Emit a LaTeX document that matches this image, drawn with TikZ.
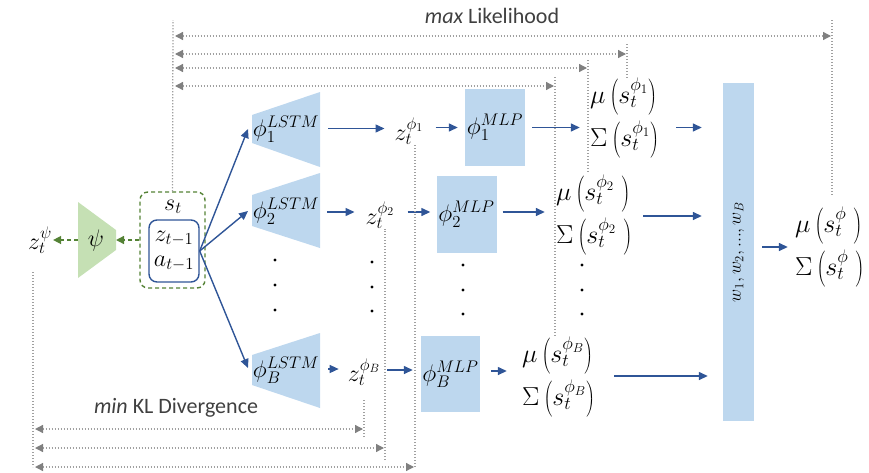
\RequirePackage{fix-cm}
\documentclass[tikz,border=0pt]{standalone}
\usepackage[no-math]{fontspec}
\setmainfont{Carlito}
\usetikzlibrary{arrows.meta}
\definecolor{bfill}{HTML}{BDD7EE}
\definecolor{barrowc}{HTML}{2F5597}
\definecolor{gfill}{HTML}{C5E0B4}
\definecolor{gline}{HTML}{548235}
\definecolor{dotc}{HTML}{A0A0A0}
\definecolor{headc}{HTML}{808080}
\definecolor{txtc}{HTML}{404040}
\begin{document}
\begin{tikzpicture}[x=1pt,y=-1pt,
  every node/.style={font=\fontsize{24}{28}\selectfont, inner sep=0pt},
  lbl/.style={text=txtc, font=\fontsize{22}{26}\selectfont},
  barrow/.style={draw=barrowc, line width=1.4pt, -{Triangle[length=9pt,width=8pt]}},
  garrow/.style={draw=gline, line width=1.4pt, dash pattern=on 4pt off 3pt, -{Triangle[length=8pt,width=8pt]}},
  dline/.style={draw=dotc, line width=1.3pt, dash pattern=on 1.3pt off 1.7pt},
  darrow/.style={dline, {Triangle[length=8pt,width=8pt,color=headc]}-{Triangle[length=8pt,width=8pt,color=headc]}, shorten <=2pt, shorten >=1pt},
  mlp/.style={fill=bfill, minimum width=60pt, minimum height=77pt},
  mus/.style={align=left, font=\fontsize{26}{43}\selectfont},
  stbox/.style={draw=gline, line width=1.4pt, dash pattern=on 4pt off 3pt, rounded corners=8pt, minimum width=65pt, minimum height=96pt},
  inbox/.style={draw=barrowc, line width=1.4pt, rounded corners=8pt, minimum width=50pt, minimum height=62pt, align=center, font=\fontsize{24}{25}\selectfont},
]
\useasboundingbox (0,0) rectangle (869,472);

% titles
\node[lbl, anchor=base] (maxL) at (492,23) {\textit{max} Likelihood};
\node[lbl, anchor=base] (minKL) at (176,413) {\textit{min} KL Divergence};

% psi
\fill[gfill] (78,202) -- (116,230) -- (116,250) -- (78,278) -- cycle;
\node (psi) at (96,240) {$\psi$};
\coordinate (psiR) at (116,240);
\coordinate (psiL) at (78,240);
\node (zpsi) at (40,240) {$z_t^{\psi}$};

% s_t
\node[stbox] (st) at (172.5,240) {};
\node (stl) at (173,207) {$s_t$};
\node[inbox] (inner) at (174,251) {$z_{t-1}$\\$a_{t-1}$};

\draw[garrow] (st.west) -- (psiR);
\draw[garrow, shorten >=1pt] (psiL) -- (zpsi.east);

% LSTMs
\fill[bfill] (252,115) -- (320,92) -- (320,167) -- (252,143) -- cycle;
\node (L1) at (286,129) {$\phi_1^{LSTM}$};
\coordinate (L1in) at (248,129); \coordinate (L1out) at (320,128.5);
\fill[bfill] (252,195) -- (320,173) -- (320,248) -- (252,226) -- cycle;
\node (L2) at (286,211) {$\phi_2^{LSTM}$};
\coordinate (L2in) at (248,211); \coordinate (L2out) at (320,212);
\fill[bfill] (252,355) -- (320,333) -- (320,408) -- (252,385) -- cycle;
\node (LB) at (286,370) {$\phi_B^{LSTM}$};
\coordinate (LBin) at (248,368); \coordinate (LBout) at (320,369);

\draw[barrow] (inner.east) -- (L1in);
\draw[barrow] (inner.east) -- (L2in);
\draw[barrow] (inner.east) -- (LBin);

% z nodes
\node (z1) at (409,131) {$z_t^{\phi_1}$};
\node (z2) at (380,215) {$z_t^{\phi_2}$};
\node (zB) at (364,372) {$z_t^{\phi_B}$};

% MLPs
\node[mlp] (M1) at (495,127.5) {$\phi_1^{MLP}$};
\node[mlp] (M2) at (466.5,214.5) {$\phi_2^{MLP}$};
\node[mlp, minimum width=59pt, minimum height=76pt] (MB) at (450.5,374) {$\phi_B^{MLP}$};

% mu sigma
\node[mus, text width=73pt] (m1) at (626.5,118) {$\mu\left(s_t^{\phi_1}\right)$\\$\Sigma\left(s_t^{\phi_1}\right)$};
\node[mus, text width=77pt] (m2) at (594.5,215) {$\mu\left(s_t^{\phi_2}\;\right)$\\$\Sigma\left(s_t^{\phi_2}\;\right)$};
\node[mus, text width=75pt] (mB) at (559.5,377) {$\mu\left(s_t^{\phi_B}\right)$\\$\Sigma\left(s_t^{\phi_B}\right)$};

% W
\node[fill=bfill, minimum width=31pt, minimum height=338pt] (W) at (738.5,252) {};
\node[rotate=90, font=\fontsize{18}{22}\selectfont] (Wl) at (738.5,252) {$w_1, w_2, ..., w_B$};

\node[mus, text width=70pt] (fin) at (830,247) {$\mu\left(s_t^{\phi}\;\right)$\\$\Sigma\left(s_t^{\phi}\;\right)$};

% row 1 arrows
\draw[barrow, shorten <=8pt, shorten >=10pt] (L1out) -- (L1out -| z1.west);
\draw[barrow, shorten <=12pt, shorten >=7pt] (z1.east |- M1.west) -- (M1.west);
\draw[barrow, shorten <=7pt, shorten >=10pt] (M1.east) -- (M1.east -| m1.west);
\draw[barrow, shorten <=13pt, shorten >=21pt] (M1.east -| m1.east) -- (M1.east -| W.west);
% row 2 arrows
\draw[barrow, shorten <=7pt, shorten >=11pt] (L2out) -- (L2out -| z2.west);
\draw[barrow, shorten <=13pt, shorten >=6pt] (L2out -| z2.east) -- (L2out -| M2.west);
\draw[barrow, shorten <=6pt, shorten >=11pt] (M2.east |- L2out) -- (L2out -| m2.west);
\draw[barrow, shorten <=10pt, shorten >=21pt] (m2.east |- 0,216) -- (W.west |- 0,216);
% row B arrows
\draw[barrow, shorten <=8pt, shorten >=9pt] (LBout) -- (LBout -| zB.west);
\draw[barrow, shorten <=7pt, shorten >=8pt] (zB.east |- 0,370) -- (MB.west |- 0,370);
\draw[barrow, shorten <=11pt, shorten >=15pt] (MB.east |- 0,371) -- (mB.west |- 0,371);
\draw[barrow, shorten <=17pt, shorten >=15pt] (mB.east |- 0,376) -- (W.west |- 0,376);
% W to final
\draw[barrow, shorten <=8pt, shorten >=7pt] (W.east |- fin.west) -- (fin.west);

% dots
\foreach \x/\y in {275/260,275/285,275/310,372/262,372/287,372/311,463/265,463/290,463/314,582/265,582/290,582/314}
  \fill (\x,\y) circle (1.6pt);

% top dotted connectors
\coordinate (tl) at (173,20);
\draw[dline] (st.north) -- (tl);
\coordinate (h1a) at (173,36); \coordinate (h1b) at (832,36);
\coordinate (h2a) at (173,54); \coordinate (h2b) at (627,54);
\coordinate (h3a) at (173,68); \coordinate (h3b) at (588,68);
\coordinate (h4a) at (173,86); \coordinate (h4b) at (555,86);
\draw[darrow] (h1a) -- (h1b);
\draw[darrow] (h2a) -- (h2b);
\draw[darrow] (h3a) -- (h3b);
\draw[darrow] (h4a) -- (h4b);
\coordinate (v1) at (832,20);
\coordinate (v2) at (627,44);
\coordinate (v3) at (588,60);
\coordinate (v4) at (555,77);
\draw[dline, shorten >=10pt] (v1) -- (v1 |- fin.north);
\draw[dline] (v2) -- (v2 |- m1.north);
\draw[dline, shorten >=2pt] (v3) -- (v3 |- m2.north);
\draw[dline] (v4) -- (v4 |- mB.north);

% bottom dotted connectors
\coordinate (bl) at (33,272); \coordinate (blb) at (33,467);
\draw[dline] (bl) -- (blb);
\coordinate (k1a) at (33,429); \coordinate (k1b) at (364,429);
\coordinate (k2a) at (33,448); \coordinate (k2b) at (385,448);
\coordinate (k3a) at (33,467); \coordinate (k3b) at (415,467);
\draw[darrow] (k1a) -- (k1b);
\draw[darrow] (k2a) -- (k2b);
\draw[darrow] (k3a) -- (k3b);
\coordinate (u1) at (364,437); \coordinate (u2) at (385,460);
\draw[dline, shorten >=13pt] (u1) -- (u1 |- zB.south);
\draw[dline] (u2) -- (u2 |- z2.south);
\draw[dline] (k3b) -- (k3b |- z1.south);
\end{tikzpicture}
\end{document}
